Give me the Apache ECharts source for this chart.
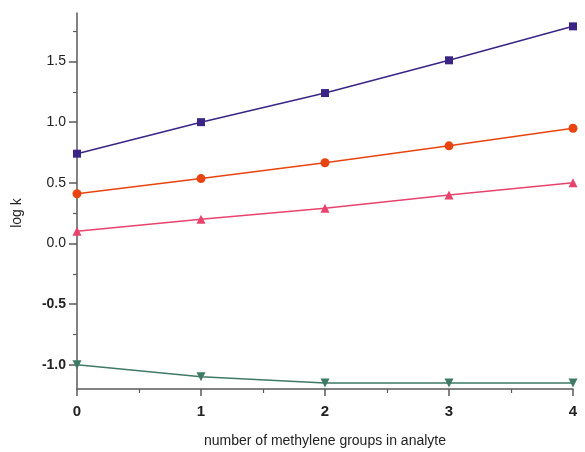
<!DOCTYPE html>
<html>
<head>
<meta charset="utf-8">
<script src="https://cdn.jsdelivr.net/npm/echarts@6/dist/echarts.min.js"></script>
<style>
  html, body { margin: 0; padding: 0; background: #fff; }
  #chart { width: 585px; height: 452px; }
</style>
</head>
<body>
<div id="chart"></div>
<script>
// Methylene groups added to the analyte (x) and retention, log k (y)
const methyleneGroups = [0, 1, 2, 3, 4];
const seriesSquare   = [0.74, 1.00, 1.24, 1.51, 1.79];
const seriesCircle   = [0.41, 0.535, 0.665, 0.805, 0.95];
const seriesTriangle = [0.10, 0.20, 0.29, 0.40, 0.50];
const seriesDown     = [-1.00, -1.10, -1.15, -1.15, -1.15];

const yMajorTicks = [-1.0, -0.5, 0.0, 0.5, 1.0, 1.5];
const yMinorTicks = [-0.75, -0.25, 0.25, 0.75, 1.25, 1.75];

const AXIS_COLOR = '#5a5a5a';
const FONT = 'Liberation Sans, Arial, Helvetica, sans-serif';

function pairs(ys) {
  return methyleneGroups.map((x, i) => [x, ys[i]]);
}

function lineSeries(name, ys, color, symbol, size, rotate) {
  return {
    name: name,
    type: 'line',
    data: pairs(ys),
    symbol: symbol,
    symbolSize: size,
    symbolRotate: rotate || 0,
    showAllSymbol: true,
    lineStyle: { color: color, width: 1.5 },
    itemStyle: { color: color, borderWidth: 0 },
    emphasis: { disabled: true },
    z: 3
  };
}

const chart = echarts.init(document.getElementById('chart'));
chart.setOption({
  animation: false,
  backgroundColor: '#ffffff',
  grid: { left: 77, right: 12, top: 13, bottom: 63, outerBoundsMode: 'none' },
  xAxis: {
    type: 'value',
    min: 0,
    max: 4,
    interval: 1,
    name: 'number of methylene groups in analyte',
    nameLocation: 'middle',
    nameGap: 45,
    nameTextStyle: { fontFamily: FONT, fontSize: 14, color: '#222' },
    axisLine: { show: true, onZero: false, lineStyle: { color: AXIS_COLOR, width: 1.5 } },
    axisTick: { show: true, inside: false, length: 7, lineStyle: { color: AXIS_COLOR, width: 1.5 } },
    minorTick: { show: true, splitNumber: 2, length: 4, lineStyle: { color: AXIS_COLOR, width: 1.2 } },
    axisLabel: { margin: 15, fontFamily: FONT, fontSize: 15, fontWeight: 'bold', color: '#222' },
    splitLine: { show: false }
  },
  yAxis: [
    {
      type: 'value',
      min: -1.2,
      max: 1.9,
      name: 'log k',
      nameLocation: 'middle',
      nameGap: 53,
      nameTextStyle: { fontFamily: FONT, fontSize: 14, color: '#222', padding: [0, 24, 0, 0] },
      axisLine: { show: true, onZero: false, lineStyle: { color: AXIS_COLOR, width: 1.5 } },
      axisTick: { show: true, customValues: yMajorTicks, length: 8, lineStyle: { color: AXIS_COLOR, width: 1.5 } },
      axisLabel: {
        customValues: yMajorTicks,
        margin: 11,
        fontFamily: FONT,
        fontSize: 14,
        color: '#222',
        formatter: function (v) {
          const s = v.toFixed(1);
          return v < 0 ? '{neg|' + s + '}' : s;
        },
        rich: { neg: { fontFamily: FONT, fontSize: 14, fontWeight: 'bold', color: '#222' } }
      },
      splitLine: { show: false }
    },
    {
      type: 'value',
      min: -1.2,
      max: 1.9,
      position: 'left',
      axisLine: { show: false },
      axisTick: { show: true, customValues: yMinorTicks, length: 4, lineStyle: { color: AXIS_COLOR, width: 1.2 } },
      axisLabel: { show: false },
      splitLine: { show: false }
    }
  ],
  series: [
    lineSeries('square', seriesSquare, '#3a2587', 'rect', 8),
    lineSeries('circle', seriesCircle, '#e9440f', 'circle', 9),
    lineSeries('triangle', seriesTriangle, '#e8436d', 'triangle', 9),
    lineSeries('down', seriesDown, '#3e7a64', 'triangle', 9, 180)
  ]
});
</script>
</body>
</html>
